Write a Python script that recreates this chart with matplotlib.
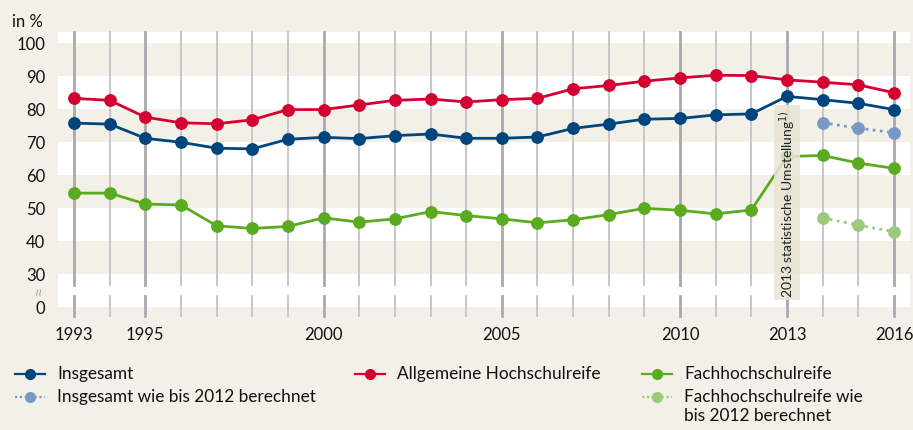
import numpy as np
import matplotlib.pyplot as plt
from matplotlib.lines import Line2D

plt.rcParams['font.family'] = ['Lato', 'DejaVu Sans']

years = np.arange(1993, 2017)
insgesamt = [75.7, 75.4, 71.1, 69.9, 68.1, 67.9, 70.8, 71.4, 71.0, 71.9, 72.4, 71.1,
             71.1, 71.5, 74.1, 75.4, 76.9, 77.1, 78.2, 78.5, 83.8, 82.8, 81.7, 79.8]
allgemein = [83.2, 82.6, 77.5, 75.8, 75.5, 76.7, 79.8, 79.8, 81.2, 82.6, 83.0, 82.1,
             82.8, 83.2, 86.1, 87.1, 88.4, 89.4, 90.2, 90.1, 88.8, 88.1, 87.3, 84.9]
fachhoch = [54.5, 54.5, 51.2, 50.9, 44.6, 43.8, 44.4, 47.0, 45.7, 46.7, 48.9, 47.7,
            46.7, 45.5, 46.4, 48.0, 49.9, 49.3, 48.2, 49.4, 65.6, 65.9, 63.6, 62.0]
years_alt = [2014, 2015, 2016]
insgesamt_alt = [75.8, 74.2, 72.8]
fachhoch_alt = [47.0, 44.8, 42.8]

year_labels = [1993, 1995, 2000, 2005, 2010, 2013, 2016]
ytick_pos = [20, 30, 40, 50, 60, 70, 80, 90, 100]
ytick_lab = ['0', '30', '40', '50', '60', '70', '80', '90', '100']

BG = '#f3f0e8'
BLUE = '#00457d'
RED = '#d50032'
GREEN = '#5aab1f'
LBLUE = '#7799c4'
LGREEN = '#9cc97b'

W, H = 913, 431
fig = plt.figure(figsize=(W / 100, H / 100), dpi=100, facecolor=BG)
ax = fig.add_axes([58 / W, 1 - 308 / H, (910 - 58) / W, (308 - 33) / H])
ax.set_facecolor('white')
ax.set_xlim(1992.55, 2016.45)
ax.set_ylim(20, 103.3)
for s in ax.spines.values():
    s.set_visible(False)

for lo in (30, 50, 70, 90):
    ax.axhspan(lo, lo + 10, color=BG, lw=0, zorder=0)

# vertical year lines, broken at the axis gap
for yr in years:
    major = yr in year_labels
    kw = dict(color='#a9a9ad' if major else '#c3c3c6', lw=2.0 if major else 1.3,
              zorder=1, clip_on=False)
    ax.plot([yr, yr], [17.3, 23.4], **kw)
    ax.plot([yr, yr], [26.8, 103.3], **kw)

mk = dict(marker='o', markersize=8.2, lw=2.0, zorder=4)
ax.plot(years, allgemein, color=RED, **mk)
ax.plot(years, insgesamt, color=BLUE, **mk)
ax.plot(years, fachhoch, color=GREEN, **mk)
ax.plot(years_alt, insgesamt_alt, color=LBLUE, ls=(0, (1, 1.6)), **mk)
ax.plot(years_alt, fachhoch_alt, color=LGREEN, ls=(0, (1, 1.6)), **mk)

ax.text(2013, 51.6, '2013 statistische Umstellung$^{1)}$', rotation=90,
        ha='center', va='center', fontsize=10, color='#222222', zorder=5,
        bbox=dict(boxstyle='square,pad=0.25', fc='#e9e4d5', ec='none', alpha=0.85))

ax.set_yticks(ytick_pos, ytick_lab)
ax.set_xticks(year_labels, [str(y) for y in year_labels])
ax.tick_params(axis='y', length=0, pad=9, labelsize=12, labelcolor='#111111')
ax.tick_params(axis='x', length=0, pad=14, labelsize=12, labelcolor='#111111')

# overlay in pixel coordinates for labels and legend
ov = fig.add_axes([0, 0, 1, 1], zorder=10)
ov.set_xlim(0, W)
ov.set_ylim(H, 0)
ov.axis('off')
ov.patch.set_alpha(0)
ov.text(12, 22, 'in %', fontsize=12, va='center', ha='left', color='#111111')
ov.text(40, 291, '≈', fontsize=13, rotation=90, color='#b0b0b4', ha='center', va='center')

legend = [
    (15, 375, BLUE, '-', 'Insgesamt'),
    (15, 398, LBLUE, (0, (1, 1.2)), 'Insgesamt wie bis 2012 berechnet'),
    (355, 375, RED, '-', 'Allgemeine Hochschulreife'),
    (642, 375, GREEN, '-', 'Fachhochschulreife'),
    (642, 398, LGREEN, (0, (1, 1.2)), 'Fachhochschulreife wie\nbis 2012 berechnet'),
]
for x0, y0, c, ls, lab in legend:
    ov.add_line(Line2D([x0, x0 + 30], [y0, y0], color=c, lw=1.6, ls=ls))
    ov.add_line(Line2D([x0 + 15], [y0], color=c, marker='o', markersize=7, lw=0))
    ov.text(x0 + 42, y0 - 9, lab, fontsize=12.4, va='top', ha='left',
            color='#111111', linespacing=1.25)

fig.savefig('out.png', dpi=100, facecolor=BG)
